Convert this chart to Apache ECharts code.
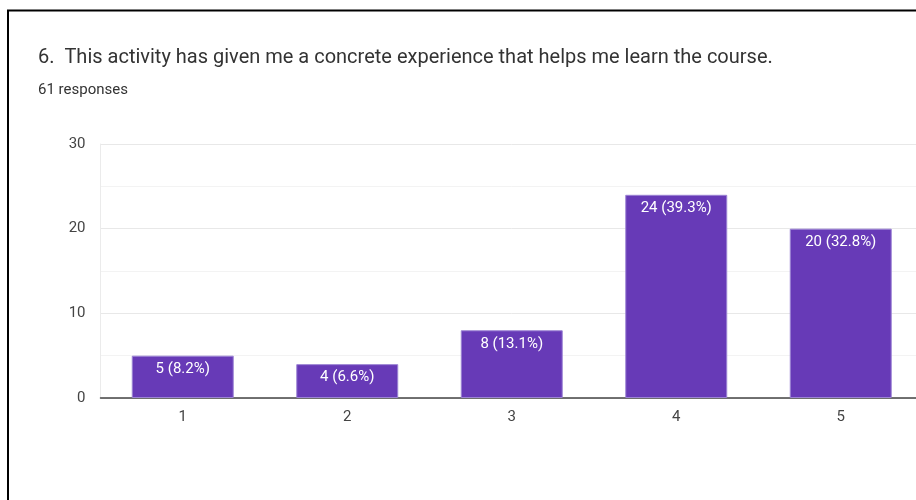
<!DOCTYPE html>
<html>
<head>
<meta charset="utf-8">
<script src="https://cdn.jsdelivr.net/npm/echarts@6/dist/echarts.min.js"></script>
<style>
  html, body { margin: 0; padding: 0; background: #fff; overflow: hidden; }
  /* the plot runs a little past the right edge of the window */
  #chart { width: 930px; height: 500px; }
</style>
</head>
<body>
<div id="chart"></div>
<script>
// Survey question 6: answer scale, response counts and their shares
const questionTitle = '6.  This activity has given me a concrete experience that helps me learn the course.';
const responseNote = '61 responses';
const categories = ['1', '2', '3', '4', '5'];
const counts = [5, 4, 8, 24, 20];
const percents = ['8.2', '6.6', '13.1', '39.3', '32.8'];
const yTicks = { min: 0, max: 30, interval: 10 };

const chart = echarts.init(document.getElementById('chart'), null, { renderer: 'canvas' });

chart.setOption({
  backgroundColor: '#ffffff',
  animation: false,
  textStyle: { fontFamily: 'Roboto' },
  title: [
    {
      text: questionTitle,
      left: 38, top: 48, padding: 0,
      textStyle: { fontFamily: 'Roboto', fontSize: 20, fontWeight: 'normal', color: '#333333' }
    },
    {
      text: responseNote,
      left: 38, top: 83, padding: 0,
      textStyle: { fontFamily: 'Roboto', fontSize: 15, fontWeight: 'normal', color: '#333333' }
    }
  ],
  grid: { left: 100.5, top: 144, width: 822.5, height: 254, containLabel: false },
  xAxis: {
    type: 'category',
    data: categories,
    axisLine: { show: true, lineStyle: { color: '#444444', width: 1.5 } },
    axisTick: { show: false },
    axisLabel: { color: '#444444', fontSize: 15, margin: 12, fontFamily: 'Roboto' },
    splitLine: { show: false }
  },
  yAxis: {
    type: 'value',
    min: yTicks.min,
    max: yTicks.max,
    interval: yTicks.interval,
    axisLine: { show: true, lineStyle: { color: '#ebebeb', width: 1 } },
    axisTick: { show: false },
    axisLabel: { color: '#444444', fontSize: 15, margin: 15, fontFamily: 'Roboto' },
    splitLine: { show: true, lineStyle: { color: '#e8e8e8', width: 1 } },
    minorTick: { show: false, splitNumber: 2 },
    minorSplitLine: { show: true, lineStyle: { color: '#f3f3f3', width: 1 } }
  },
  series: [{
    type: 'bar',
    data: counts,
    barWidth: '62%',
    itemStyle: { color: '#673ab7', borderColor: '#9c84d4', borderWidth: 1 },
    label: {
      show: true,
      position: 'insideTop',
      distance: 6,
      color: '#ffffff',
      fontSize: 15,
      fontFamily: 'Roboto',
      formatter: p => p.value + ' (' + percents[p.dataIndex] + '%)'
    }
  }],
  graphic: [
    { type: 'line', shape: { x1: 8, y1: 10, x2: 8, y2: 500 }, style: { stroke: '#000', lineWidth: 2 } },
    { type: 'line', shape: { x1: 7, y1: 10.5, x2: 930, y2: 10.5 }, style: { stroke: '#000', lineWidth: 2 } }
  ]
});
</script>
</body>
</html>
